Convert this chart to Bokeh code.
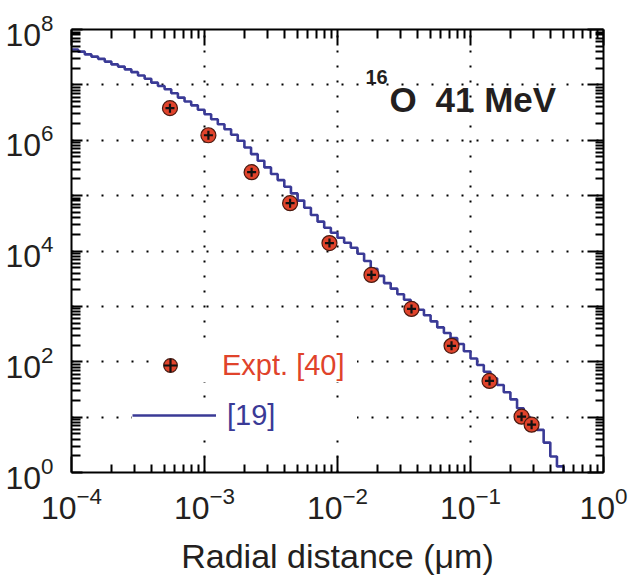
import numpy as np
from bokeh.plotting import figure
from bokeh.models import (FixedTicker, LogAxis, Legend, LegendItem, Label,
                          CustomJSTickFormatter)
from bokeh.embed import file_html
from bokeh.resources import INLINE

# ---------------- data ----------------
EXPT_X = [5.5e-4, 1.07e-3, 2.26e-3, 4.4e-3, 8.7e-3, 1.8e-2, 3.6e-2, 7.2e-2, 0.139, 0.242, 0.288]
EXPT_Y = [3.8e6, 1.23e6, 2.65e5, 7.3e4, 1.39e4, 3.7e3, 900, 194, 45, 10.2, 7.3]

# step histogram of ref. [19]: bin edges (log10 of distance) and bin values (log10)
STEP_EDGE_EXP = [-4.00, -3.95, -3.90, -3.85, -3.80, -3.75, -3.70, -3.65, -3.60, -3.55,
                 -3.50, -3.45, -3.40, -3.35, -3.30, -3.25, -3.20, -3.15, -3.10, -3.05,
                 -3.00, -2.95, -2.90, -2.85, -2.80, -2.75, -2.70, -2.65, -2.60, -2.55,
                 -2.50, -2.45, -2.40, -2.35, -2.30, -2.25, -2.20, -2.15, -2.10, -2.05,
                 -2.00, -1.95, -1.90, -1.85, -1.80, -1.75, -1.70, -1.65, -1.60, -1.55,
                 -1.50, -1.45, -1.40, -1.35, -1.30, -1.25, -1.20, -1.15, -1.10, -1.05,
                 -1.00, -0.95, -0.90, -0.85, -0.80, -0.75, -0.70, -0.65, -0.60, -0.55,
                 -0.50, -0.45, -0.40, -0.35, -0.30]
STEP_VALUE_EXP = [7.64, 7.60, 7.55, 7.51, 7.47, 7.42, 7.37, 7.33, 7.28, 7.23,
                  7.17, 7.11, 7.04, 6.98, 6.92, 6.85, 6.77, 6.70, 6.63, 6.55,
                  6.47, 6.38, 6.29, 6.20, 6.10, 5.99, 5.87, 5.75, 5.63, 5.51,
                  5.39, 5.28, 5.16, 5.04, 4.91, 4.78, 4.65, 4.53, 4.42, 4.33,
                  4.24, 4.15, 4.06, 3.95, 3.82, 3.68, 3.55, 3.42, 3.32, 3.22,
                  3.12, 3.03, 2.94, 2.84, 2.73, 2.62, 2.52, 2.43, 2.32, 2.19,
                  2.06, 1.94, 1.82, 1.70, 1.58, 1.45, 1.32, 1.16, 1.00, 0.90,
                  0.77, 0.54, 0.29, 0.11]
STEP_END_VALUE = 0.3   # last drop goes below the axis

X_MAJOR = [1e-4, 1e-3, 1e-2, 1e-1, 1e0]
Y_MAJOR = [1e0, 1e1, 1e2, 1e3, 1e4, 1e5, 1e6, 1e7, 1e8]
Y_LABELLED = [1e0, 1e2, 1e4, 1e6, 1e8]

FONT = "Liberation Sans"
TXT = "#231f20"
RED = "#e0432b"
BLUE = "#3a3a96"

x_minor = [m * d for d in X_MAJOR[:-1] for m in range(2, 10)]
y_minor = [m * d for d in Y_MAJOR[:-1] for m in range(2, 10)]

p = figure(width=643, height=577, x_axis_type="log", y_axis_type="log",
           x_range=(1e-4, 1.0), y_range=(1.0, 1e8),
           output_backend="svg", toolbar_location=None,
           min_border_left=71, min_border_right=40, min_border_top=29, min_border_bottom=104)
p.outline_line_color = None
p.background_fill_color = "white"
p.border_fill_color = "white"

xt = FixedTicker(ticks=X_MAJOR, minor_ticks=x_minor)
yt = FixedTicker(ticks=Y_MAJOR, minor_ticks=y_minor)

# grids
p.xgrid.ticker = FixedTicker(ticks=X_MAJOR[1:-1])
p.ygrid.ticker = FixedTicker(ticks=Y_MAJOR[1:-1])
for g in (p.xgrid, p.ygrid):
    g.grid_line_color = "black"
    g.grid_line_width = 2
    g.grid_line_dash = "2 13"

def style_axis(ax, major_in, minor_in):
    ax.axis_line_color = "black"
    ax.axis_line_width = 2
    ax.major_tick_in = major_in
    ax.major_tick_out = 0
    ax.minor_tick_in = minor_in
    ax.minor_tick_out = 0
    ax.major_tick_line_color = "black"
    ax.minor_tick_line_color = "black"
    ax.major_tick_line_width = 2
    ax.minor_tick_line_width = 2
    ax.major_label_text_font = FONT
    ax.major_label_text_font_size = "32px"
    ax.major_label_text_color = TXT

# bottom axis
xa = p.xaxis[0]
xa.ticker = xt
style_axis(xa, 16, 8)
xa.major_label_standoff = 14
xa.axis_label = "Radial distance (\u03bcm)"
xa.axis_label_text_font = FONT
xa.axis_label_text_font_size = "34px"
xa.axis_label_text_font_style = "normal"
xa.axis_label_text_color = TXT
xa.axis_label_standoff = 15

# left axis
ya = p.yaxis[0]
ya.ticker = yt
style_axis(ya, 11, 9)
ya.major_label_standoff = 18
ya.major_label_overrides = {v: "" for v in Y_MAJOR if v not in Y_LABELLED}

blank = CustomJSTickFormatter(code="return ''")
top = LogAxis(ticker=xt, formatter=blank)
style_axis(top, 16, 9)
top.major_label_text_font_size = "0px"
top.major_label_standoff = 0
p.add_layout(top, "above")

right = LogAxis(ticker=yt, formatter=blank)
style_axis(right, 16, 8)
right.major_label_text_font_size = "0px"
right.major_label_standoff = 0
p.add_layout(right, "right")

# model curve (step)
step_x = [10 ** e for e in STEP_EDGE_EXP]
step_y = [10 ** v for v in STEP_VALUE_EXP] + [STEP_END_VALUE]
ln = p.step(step_x, step_y, mode="after", line_color=BLUE, line_width=2.6)

# experimental points
circ = p.scatter(EXPT_X, EXPT_Y, marker="circle", size=15, fill_color=RED,
                 line_color="#4a1a10", line_width=1.2)
crs = p.scatter(EXPT_X, EXPT_Y, marker="cross", size=9, line_color="#111111",
                line_width=2.2)

# legends (two, for per-item label colours)
leg1 = Legend(items=[LegendItem(label="Expt. [40]", renderers=[circ, crs])],
              location=(79, 90), glyph_width=40, glyph_height=34, label_height=34,
              label_standoff=32, label_width=135, padding=10, margin=0,
              border_line_color=None, background_fill_color="white", background_fill_alpha=1,
              label_text_font=FONT, label_text_font_size="29px", label_text_color=RED)
leg2 = Legend(items=[LegendItem(label="[19]", renderers=[ln])],
              location=(61, 40), glyph_width=84, glyph_height=34, label_height=34,
              label_standoff=11, label_width=130, padding=10, margin=0,
              border_line_color=None, background_fill_color="white", background_fill_alpha=1,
              label_text_font=FONT, label_text_font_size="29px", label_text_color=BLUE)
p.add_layout(leg1)
p.add_layout(leg2)

# in-plot title text
p.add_layout(Label(x=294, y=396, x_units="screen", y_units="screen", text="16",
                   text_font=FONT, text_font_size="20px", text_font_style="bold",
                   text_color=TXT, text_baseline="alphabetic"))
p.add_layout(Label(x=318, y=373, x_units="screen", y_units="screen", text="O",
                   text_font=FONT, text_font_size="35px", text_font_style="bold",
                   text_color=TXT, text_baseline="alphabetic"))
p.add_layout(Label(x=364, y=373, x_units="screen", y_units="screen", text="41 MeV",
                   text_font=FONT, text_font_size="35px", text_font_style="bold",
                   text_color=TXT, text_baseline="alphabetic"))

open("out.html", "w").write(file_html(p, INLINE))
